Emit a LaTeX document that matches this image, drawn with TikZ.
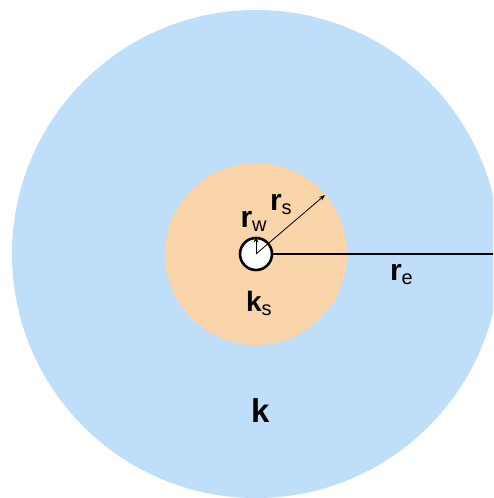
\documentclass[tikz,border=0pt]{standalone}
\usepackage{fontspec}
\setmainfont{Liberation Sans}
\usetikzlibrary{arrows.meta}
\definecolor{outerblue}{RGB}{191,222,250}
\definecolor{innerpeach}{RGB}{250,213,170}
\newcommand{\mainlab}[2]{{\fontsize{#2}{#2}\selectfont\bfseries #1}}
\newcommand{\sublab}[1]{\raisebox{-4pt}{\fontsize{20}{20}\selectfont #1}}
\tikzset{
  lab/.style={anchor=base west, inner sep=0pt, outer sep=0pt},
  arr/.style={-{Stealth[length=6pt,width=4.5pt]}, line width=0.8pt},
}
\begin{document}
\begin{tikzpicture}[x=1pt,y=-1pt]
\useasboundingbox (0,0) rectangle (493,498);
\clip (0,0) rectangle (493,498);
\fill[white] (0,0) rectangle (493,498);
\coordinate (c) at (256,254);
\fill[outerblue] (c) circle (244pt);
\fill[innerpeach] (c) circle (91pt);
\node[circle, draw, line width=2.6pt, fill=white, minimum size=32pt, inner sep=0pt] (w) at (c) {};
\coordinate (wtip) at (256,236.5);
\coordinate (stip) at (325,195);
\coordinate (etip) at (493,254);
\draw[arr] (c) -- (wtip);
\draw[arr] (c) -- (stip);
\draw[line width=1.2pt] (w.east) -- (etip);
\node[lab] (rw) at (240.5,227) {\mainlab{r}{30}\sublab{w}};
\node[lab] (rs) at (270,210) {\mainlab{r}{30}\sublab{s}};
\node[lab] (re) at (390,280) {\mainlab{r}{30}\sublab{e}};
\node[lab] (ks) at (246,311) {\mainlab{k}{28}\sublab{s}};
\node[lab] (k) at (251,422) {\mainlab{k}{33}};
\end{tikzpicture}
\end{document}
